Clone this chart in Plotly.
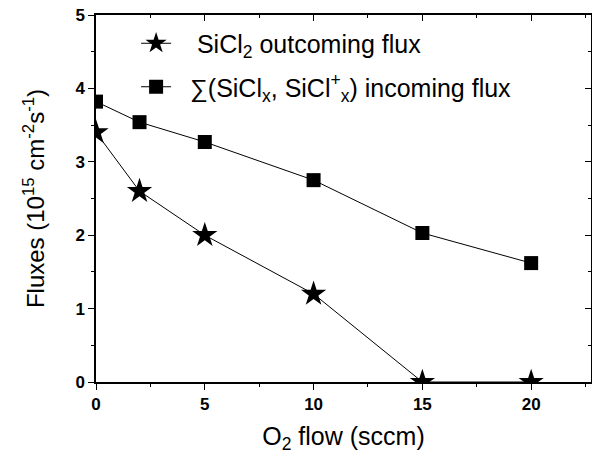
import plotly.graph_objects as go

o2_flow = [0, 2, 5, 10, 15, 20]
sicl2_out = [3.40, 2.60, 2.00, 1.20, 0.00, 0.00]
sum_in = [3.82, 3.54, 3.27, 2.75, 2.03, 1.62]

x_ticks = [0, 5, 10, 15, 20]
y_ticks = [0, 1, 2, 3, 4, 5]

pad = "\u00a0\u00a0\u00a0"
name1 = pad + "SiCl<sub>2</sub> outcoming flux"
name2 = "\u00a0\u00a0∑(SiCl<sub>x</sub>, SiCl<sup>+</sup><sub>x</sub>) incoming flux"

FONT = "Liberation Sans, Arial, sans-serif"

fig = go.Figure()
fig.add_trace(go.Scatter(x=o2_flow, y=sicl2_out, mode="lines+markers", name=name1,
                         legendgroup="a",
                         line=dict(color="black", width=1),
                         marker=dict(symbol="star", size=19, color="black")))
fig.add_trace(go.Scatter(x=o2_flow, y=sum_in, mode="lines+markers", name=name2,
                         legendgroup="b",
                         line=dict(color="black", width=1),
                         marker=dict(symbol="square", size=14, color="black")))

xr = [0, 22.75]
yr = [0, 5]
fig.update_layout(
    width=592, height=458,
    margin=dict(l=96, r=1, t=15, b=76, autoexpand=False),
    paper_bgcolor="white", plot_bgcolor="white",
    showlegend=True,
    legend=dict(x=0.081, y=0.985, xanchor="left", yanchor="top",
                font=dict(family=FONT, size=25, color="black"),
                bgcolor="rgba(0,0,0,0)", tracegroupgap=8, traceorder="grouped"),
    xaxis=dict(range=xr, tickvals=x_ticks, showgrid=False, zeroline=False, automargin=False,
               showline=True, linecolor="black", linewidth=1.5,
               ticks="outside", ticklen=6, tickwidth=1.2, tickcolor="black",
               minor=dict(dtick=2.5, ticks="outside", ticklen=3, tickcolor="black"),
               tickfont=dict(family=FONT, size=17, color="black", weight="bold"),
               title=dict(text="O<sub>2</sub> flow (sccm)", standoff=14,
                          font=dict(family=FONT, size=25, color="black"))),
    yaxis=dict(range=yr, tickvals=y_ticks, showgrid=False, zeroline=False, automargin=False,
               showline=True, linecolor="black", linewidth=1.5,
               ticks="outside", ticklen=6, tickwidth=1.2, tickcolor="black",
               minor=dict(dtick=0.5, ticks="outside", ticklen=3, tickcolor="black"),
               tickfont=dict(family=FONT, size=17, color="black", weight="bold"),
               title=dict(text="Fluxes (10<sup>15</sup> cm<sup>-2</sup>s<sup>-1</sup>)", standoff=24,
                          font=dict(family=FONT, size=24, color="black"))),
    xaxis2=dict(range=xr, overlaying="x", side="top", tickvals=x_ticks, showticklabels=False,
                showgrid=False, zeroline=False, showline=True, linecolor="black", linewidth=1.5,
                automargin=False,
                ticks="inside", ticklen=6, tickcolor="black",
                minor=dict(dtick=2.5, ticks="inside", ticklen=3, tickcolor="black")),
    yaxis2=dict(range=yr, overlaying="y", side="right", tickvals=y_ticks, showticklabels=False,
                showgrid=False, zeroline=False, showline=True, linecolor="black", linewidth=1.5,
                automargin=False,
                ticks="inside", ticklen=6, tickcolor="black",
                minor=dict(dtick=0.5, ticks="inside", ticklen=3, tickcolor="black")),
)
fig.add_trace(go.Scatter(x=[None], y=[None], xaxis="x2", yaxis="y2", showlegend=False, hoverinfo="skip"))

fig.write_html("out.html", config={"displayModeBar": False},
               post_script="document.body.style.margin='0';")
